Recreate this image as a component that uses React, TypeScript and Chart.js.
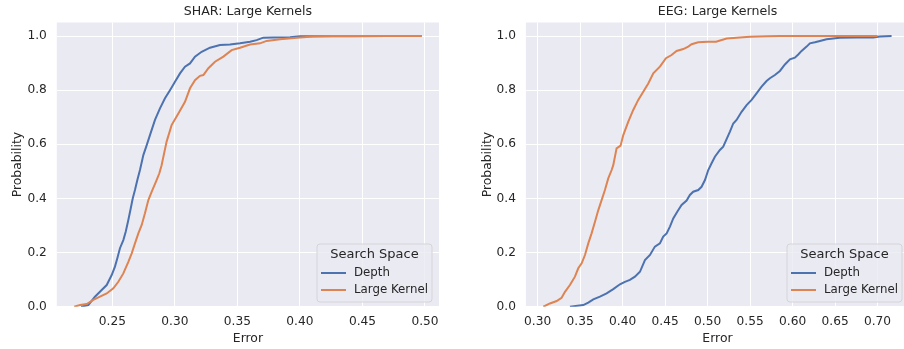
import React, { useEffect, useRef } from "react";
import { Chart, registerables } from "chart.js";

Chart.register(...registerables);

// ---------- data ----------
const seriesNames = ["Depth", "Large Kernel"];
const legendTitle = "Search Space";
const yTicks = [0, 0.2, 0.4, 0.6, 0.8, 1.0];

// SHAR: Large Kernels
const sharTitle = "SHAR: Large Kernels";
const sharXTicks = [0.25, 0.3, 0.35, 0.4, 0.45, 0.5];
const sharDepthX = [0.2250, 0.2308, 0.2361, 0.2415, 0.2455, 0.2495, 0.2521, 0.2540, 0.2561, 0.2588, 0.2607, 0.2628, 0.2647, 0.2663, 0.2681, 0.2700, 0.2721, 0.2748, 0.2775, 0.2801, 0.2841, 0.2881, 0.2921, 0.2961, 0.3001, 0.3041, 0.3081, 0.3121, 0.3161, 0.3214, 0.3281, 0.3361, 0.3441, 0.3521, 0.3601, 0.3654, 0.3707, 0.3787, 0.3921, 0.4001, 0.4400, 0.4700, 0.4973];
const sharDepthY = [0, 0.006, 0.037, 0.062, 0.080, 0.117, 0.148, 0.179, 0.216, 0.246, 0.277, 0.320, 0.363, 0.400, 0.431, 0.468, 0.505, 0.560, 0.597, 0.634, 0.690, 0.733, 0.770, 0.800, 0.831, 0.862, 0.887, 0.899, 0.924, 0.942, 0.957, 0.967, 0.969, 0.973, 0.979, 0.985, 0.994, 0.995, 0.996, 0.999, 0.999, 1.0, 1.0];
const sharKernelX = [0.2195, 0.2242, 0.2295, 0.2348, 0.2401, 0.2455, 0.2508, 0.2548, 0.2588, 0.2628, 0.2655, 0.2681, 0.2708, 0.2735, 0.2761, 0.2788, 0.2815, 0.2849, 0.2876, 0.2894, 0.2934, 0.2974, 0.3028, 0.3081, 0.3121, 0.3161, 0.3201, 0.3228, 0.3268, 0.3321, 0.3388, 0.3454, 0.3521, 0.3601, 0.3681, 0.3734, 0.3841, 0.4001, 0.4107, 0.4267, 0.4973];
const sharKernelY = [0, 0.006, 0.010, 0.025, 0.037, 0.049, 0.068, 0.092, 0.123, 0.166, 0.197, 0.234, 0.271, 0.302, 0.345, 0.394, 0.425, 0.462, 0.493, 0.523, 0.610, 0.671, 0.714, 0.757, 0.807, 0.837, 0.853, 0.856, 0.881, 0.905, 0.924, 0.948, 0.957, 0.969, 0.973, 0.982, 0.988, 0.995, 0.998, 1.0, 1.0];

// EEG: Large Kernels
const eegTitle = "EEG: Large Kernels";
const eegXTicks = [0.3, 0.35, 0.4, 0.45, 0.5, 0.55, 0.6, 0.65, 0.7];
const eegDepthX = [0.3380, 0.3537, 0.3596, 0.3655, 0.3733, 0.3812, 0.3890, 0.3969, 0.4027, 0.4086, 0.4145, 0.4204, 0.4263, 0.4322, 0.4380, 0.4439, 0.4478, 0.4518, 0.4557, 0.4596, 0.4643, 0.4694, 0.4753, 0.4792, 0.4831, 0.4890, 0.4929, 0.4969, 0.5008, 0.5047, 0.5086, 0.5145, 0.5184, 0.5263, 0.5302, 0.5341, 0.5400, 0.5459, 0.5518, 0.5576, 0.5635, 0.5694, 0.5733, 0.5792, 0.5851, 0.5910, 0.5969, 0.6027, 0.6067, 0.6106, 0.6165, 0.6204, 0.6263, 0.6322, 0.6400, 0.6478, 0.6557, 0.6753, 0.6949, 0.7027, 0.7165];
const eegDepthY = [0, 0.006, 0.015, 0.027, 0.037, 0.049, 0.065, 0.083, 0.092, 0.099, 0.111, 0.129, 0.172, 0.191, 0.222, 0.234, 0.259, 0.271, 0.296, 0.326, 0.351, 0.376, 0.392, 0.413, 0.425, 0.431, 0.443, 0.468, 0.505, 0.530, 0.554, 0.579, 0.591, 0.647, 0.677, 0.690, 0.720, 0.745, 0.764, 0.788, 0.813, 0.834, 0.844, 0.856, 0.871, 0.895, 0.914, 0.920, 0.932, 0.945, 0.961, 0.973, 0.977, 0.982, 0.988, 0.991, 0.994, 0.995, 0.995, 0.998, 1.0];
const eegKernelX = [0.3067, 0.3145, 0.3224, 0.3282, 0.3322, 0.3380, 0.3439, 0.3478, 0.3518, 0.3557, 0.3596, 0.3635, 0.3675, 0.3714, 0.3753, 0.3792, 0.3831, 0.3871, 0.3890, 0.3929, 0.3976, 0.4008, 0.4067, 0.4125, 0.4184, 0.4243, 0.4302, 0.4361, 0.4439, 0.4510, 0.4576, 0.4635, 0.4714, 0.4772, 0.4812, 0.4890, 0.5000, 0.5100, 0.5224, 0.5380, 0.5500, 0.5700, 0.5850, 0.7000];
const eegKernelY = [0, 0.012, 0.021, 0.033, 0.055, 0.080, 0.111, 0.142, 0.160, 0.191, 0.234, 0.271, 0.314, 0.357, 0.394, 0.431, 0.474, 0.505, 0.523, 0.585, 0.595, 0.634, 0.684, 0.727, 0.764, 0.794, 0.825, 0.862, 0.887, 0.918, 0.930, 0.945, 0.952, 0.961, 0.970, 0.977, 0.979, 0.979, 0.991, 0.995, 0.997, 0.999, 1.0, 1.0];

// ---------- styles ----------
const FONT = "'DejaVu Sans', sans-serif";
const TEXT = "#262626";
const COLORS = ["#4c72b0", "#dd8452"];
const BG = "#eaeaf2";

const zip = (xs: number[], ys: number[]) => xs.map((x, i) => ({ x, y: ys[i] }));

const bgPlugin = {
  id: "plotBg",
  beforeDraw(chart: any) {
    const { ctx, chartArea: a } = chart;
    ctx.save();
    ctx.fillStyle = BG;
    ctx.fillRect(a.left, a.top, a.right - a.left, a.bottom - a.top);
    ctx.restore();
  },
};

const legendPlugin = {
  id: "insideLegend",
  afterDatasetsDraw(chart: any) {
    const { ctx, chartArea: a } = chart;
    const w = 115, h = 58;
    const right = a.right - 7;
    const bottom = a.bottom - 4.7;
    const left = right - w;
    const top = bottom - h;
    const r = 3;
    ctx.save();
    ctx.beginPath();
    ctx.moveTo(left + r, top);
    ctx.lineTo(right - r, top);
    ctx.arcTo(right, top, right, top + r, r);
    ctx.lineTo(right, bottom - r);
    ctx.arcTo(right, bottom, right - r, bottom, r);
    ctx.lineTo(left + r, bottom);
    ctx.arcTo(left, bottom, left, bottom - r, r);
    ctx.lineTo(left, top + r);
    ctx.arcTo(left, top, left + r, top, r);
    ctx.closePath();
    ctx.fillStyle = "rgba(234,234,242,0.8)";
    ctx.fill();
    ctx.strokeStyle = "#d4d4d8";
    ctx.lineWidth = 1;
    ctx.stroke();

    ctx.fillStyle = TEXT;
    ctx.textBaseline = "middle";
    ctx.textAlign = "center";
    ctx.font = `13px ${FONT}`;
    ctx.fillText(legendTitle, left + w / 2, top + 10.5);

    ctx.textAlign = "left";
    ctx.font = `11.8px ${FONT}`;
    seriesNames.forEach((name, i) => {
      const y = top + 29 + i * 17;
      ctx.beginPath();
      ctx.moveTo(left + 4, y);
      ctx.lineTo(left + 29, y);
      ctx.strokeStyle = COLORS[i];
      ctx.lineWidth = 2;
      ctx.stroke();
      ctx.fillStyle = TEXT;
      ctx.fillText(name, left + 37, y);
    });
    ctx.restore();
  },
};

function makeConfig(
  title: string,
  xMin: number,
  xMax: number,
  xTicks: number[],
  depth: { x: number; y: number }[],
  kernel: { x: number; y: number }[],
  yAxisWidth: number,
  yTitlePad: number,
  padRight: number
): any {
  return {
    type: "line",
    data: {
      datasets: [
        {
          label: seriesNames[0],
          data: depth,
          borderColor: COLORS[0],
          backgroundColor: COLORS[0],
          borderWidth: 2,
          pointRadius: 0,
          tension: 0,
          order: 2,
        },
        {
          label: seriesNames[1],
          data: kernel,
          borderColor: COLORS[1],
          backgroundColor: COLORS[1],
          borderWidth: 2,
          pointRadius: 0,
          tension: 0,
          order: 1,
        },
      ],
    },
    options: {
      responsive: false,
      animation: false,
      devicePixelRatio: 1,
      layout: { padding: { left: 0, right: padRight, top: 0, bottom: 0 } },
      plugins: {
        legend: { display: false },
        tooltip: { enabled: false },
        title: {
          display: true,
          text: title,
          fullSize: false,
          color: TEXT,
          font: { family: FONT, size: 12.6, weight: "normal" },
          padding: { top: 4, bottom: 3.4 },
        },
      },
      scales: {
        x: {
          type: "linear",
          min: xMin,
          max: xMax,
          afterBuildTicks: (s: any) => {
            s.ticks = xTicks.map((v) => ({ value: v }));
          },
          afterFit: (s: any) => {
            s.height = 42.3;
          },
          grid: { color: "#ffffff", lineWidth: 1, drawTicks: false },
          border: { display: false },
          ticks: {
            autoSkip: false,
            maxRotation: 0,
            padding: 7.5,
            color: TEXT,
            font: { family: FONT, size: 12.2 },
            callback: (v: any) => Number(v).toFixed(2),
          },
          title: {
            display: true,
            text: "Error",
            color: TEXT,
            font: { family: FONT, size: 12.4 },
            padding: { top: 0, bottom: 2.5 },
          },
        },
        y: {
          type: "linear",
          min: 0,
          max: 1.05,
          afterBuildTicks: (s: any) => {
            s.ticks = yTicks.map((v) => ({ value: v }));
          },
          afterFit: (s: any) => {
            s.width = yAxisWidth;
          },
          grid: { color: "#ffffff", lineWidth: 1, drawTicks: false },
          border: { display: false },
          ticks: {
            autoSkip: false,
            padding: 10,
            color: TEXT,
            font: { family: FONT, size: 12.2 },
            callback: (v: any) => Number(v).toFixed(1),
          },
          title: {
            display: true,
            text: "Probability",
            color: TEXT,
            font: { family: FONT, size: 12.4 },
            padding: { top: yTitlePad, bottom: 0 },
          },
        },
      },
    },
    plugins: [bgPlugin, legendPlugin],
  };
}

function ChartCanvas(props: { left: number; width: number; config: any }) {
  const ref = useRef<HTMLCanvasElement | null>(null);
  useEffect(() => {
    if (!ref.current) return;
    const chart = new Chart(ref.current, props.config);
    return () => chart.destroy();
  }, []);
  return (
    <canvas
      ref={ref}
      width={props.width}
      height={349}
      style={{ position: "absolute", left: props.left, top: 0, width: props.width, height: 349 }}
    />
  );
}

export default function App() {
  const leftCfg = makeConfig(
    sharTitle,
    0.2056,
    0.5112,
    sharXTicks,
    zip(sharDepthX, sharDepthY),
    zip(sharKernelX, sharKernelY),
    56.8,
    10,
    11
  );
  const rightCfg = makeConfig(
    eegTitle,
    0.2862,
    0.737,
    eegXTicks,
    zip(eegDepthX, eegDepthY),
    zip(eegKernelX, eegKernelY),
    75.9,
    30,
    6
  );
  return (
    <div
      style={{
        position: "absolute",
        left: 0,
        top: 0,
        width: 904,
        height: 349,
        overflow: "hidden",
        background: "#ffffff",
      }}
    >
      <ChartCanvas left={0} width={450} config={leftCfg} />
      <ChartCanvas left={450} width={465} config={rightCfg} />
    </div>
  );
}
